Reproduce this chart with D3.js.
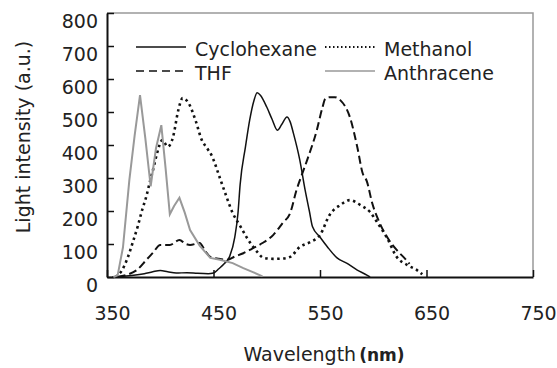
<!DOCTYPE html>
<html>
<head>
<meta charset="utf-8">
<script src="https://cdn.jsdelivr.net/npm/d3@7"></script>
<style>
  body { margin: 0; background: #fff; }
  svg text { font-family: "DejaVu Sans", sans-serif; fill: #222; }
</style>
</head>
<body>
<div id="chart"></div>
<script>
// wavelength (nm), light intensity (a.u.)
const cyclohexane = [[355,0],[365,2],[375,5],[385,10],[393,16],[400,20],[407,16],[415,12],[425,13],[435,11],[445,10],[450,12],[455,25],[460,40],[465,61],[470,121],[473,194],[475,280],[480,394],[484,476],[488,535],[491,558],[494,551],[500,515],[505,478],[510,445],[514,462],[519,485],[522,470],[525,436],[531,355],[536,264],[540,200],[543,152],[550,121],[557,91],[566,58],[575,42],[585,21],[594,6],[597,0]];
const methanol = [[358,0],[364,20],[369,55],[374,103],[379,155],[383,203],[387,245],[390,285],[394,335],[397,375],[402,415],[407,395],[412,424],[417,506],[421,542],[426,530],[433,476],[439,415],[444,390],[448,370],[456,300],[462,245],[468,194],[475,155],[481,121],[491,76],[497,58],[506,55],[515,56],[522,61],[531,91],[541,106],[550,127],[559,188],[569,218],[578,233],[588,218],[597,197],[604,164],[613,118],[622,61],[632,36],[641,21],[646,8]];
const thf = [[360,0],[370,8],[378,21],[387,52],[393,73],[400,97],[409,97],[418,112],[424,100],[428,97],[437,103],[442,80],[447,61],[455,55],[463,52],[470,62],[478,72],[484,82],[490,92],[496,103],[506,127],[515,164],[522,194],[528,264],[533,310],[538,355],[547,445],[552,510],[555,540],[559,545],[564,545],[569,536],[578,485],[585,394],[590,315],[594,290],[599,224],[606,164],[613,121],[622,82],[630,55],[634,40]];
const anthracene = [[356,0],[360,5],[365,90],[371,294],[376,430],[381,551],[386,420],[391,275],[396,390],[401,460],[405,330],[409,190],[413,215],[418,240],[423,195],[428,142],[437,95],[447,58],[456,52],[468,42],[478,27],[487,15],[496,2]];

const xTicks = [350, 450, 550, 650, 750];
const yTicks = [0, 100, 200, 300, 400, 500, 600, 700, 800];

const series = [
  {name: "Cyclohexane", data: cyclohexane, color: "#111", width: 1.5, dash: null, legendDash: null, curve: d3.curveMonotoneX},
  {name: "THF", data: thf, color: "#111", width: 2, dash: "8,4", legendDash: "8,5", curve: d3.curveMonotoneX},
  {name: "Methanol", data: methanol, color: "#111", width: 2.6, dash: "2.5,3.5", legendDash: "1.5,2.5", curve: d3.curveMonotoneX},
  {name: "Anthracene", data: anthracene, color: "#999", width: 2, dash: null, legendDash: null, curve: d3.curveLinear}
];

const width = 557, height = 368;
const svg = d3.select("#chart").append("svg")
  .attr("width", width).attr("height", height);

let xScale = d3.scaleLinear().domain([350, 750]).range([107, 533]);
let yScale = d3.scaleLinear().domain([0, 800]).range([277, 13]);

// frame (top + right)
svg.append("path")
  .attr("d", "M" + xScale(350) + "," + yScale(800) + "H" + xScale(750) + "V" + yScale(0))
  .attr("fill", "none").attr("stroke", "#999").attr("stroke-width", 1.5);

// axes, ticks pointing inwards
let yAxis = svg.append("g")
  .attr("transform", "translate(" + xScale(350) + ",0)")
  .call(d3.axisLeft(yScale).tickValues(yTicks).tickSizeInner(-7).tickSizeOuter(0).tickPadding(9));
yAxis.selectAll("text").attr("y", 8).style("font-size", "19px");

let xAxis = svg.append("g")
  .attr("transform", "translate(0," + yScale(0) + ")")
  .call(d3.axisBottom(xScale).tickValues(xTicks).tickSizeInner(-7).tickSizeOuter(0).tickPadding(30));
xAxis.selectAll("text").attr("x", 5).style("font-size", "19px");

svg.selectAll(".domain").attr("stroke", "#111").attr("stroke-width", 2);
svg.selectAll(".tick line").attr("stroke", "#111").attr("stroke-width", 1.5);

// curves
let linesGroup = svg.append("g").attr("id", "lines");
for (let s of series) {
  let line = d3.line()
    .x(function(d) { return xScale(d[0]); })
    .y(function(d) { return yScale(d[1]); })
    .curve(s.curve);
  linesGroup.append("path")
    .datum(s.data)
    .attr("d", line)
    .attr("fill", "none")
    .attr("stroke", s.color)
    .attr("stroke-width", s.width)
    .attr("stroke-dasharray", s.dash);
}

// legend
const legendPos = [[136, 47], [136, 71], [325, 47], [325, 71]];
series.forEach(function(s, i) {
  let [lx, ly] = legendPos[i];
  svg.append("line")
    .attr("x1", lx).attr("x2", lx + 50).attr("y1", ly).attr("y2", ly)
    .attr("stroke", s.color)
    .attr("stroke-width", s.name == "Methanol" ? 1.8 : 1.5)
    .attr("stroke-dasharray", s.legendDash);
  svg.append("text")
    .attr("x", lx + 59).attr("y", ly + 9)
    .style("font-size", "19px")
    .text(s.name);
});

// axis titles
svg.append("text")
  .attr("transform", "translate(30,137) rotate(-90)")
  .attr("text-anchor", "middle")
  .style("font-size", "19px")
  .text("Light intensity (a.u.)");

let xTitle = svg.append("text")
  .attr("x", 324).attr("y", 361)
  .attr("text-anchor", "middle")
  .style("font-size", "19px");
xTitle.append("tspan").text("Wavelength");
xTitle.append("tspan").attr("dx", 3).style("font-weight", "bold").style("font-size", "17px").text("(nm)");
</script>
</body>
</html>
